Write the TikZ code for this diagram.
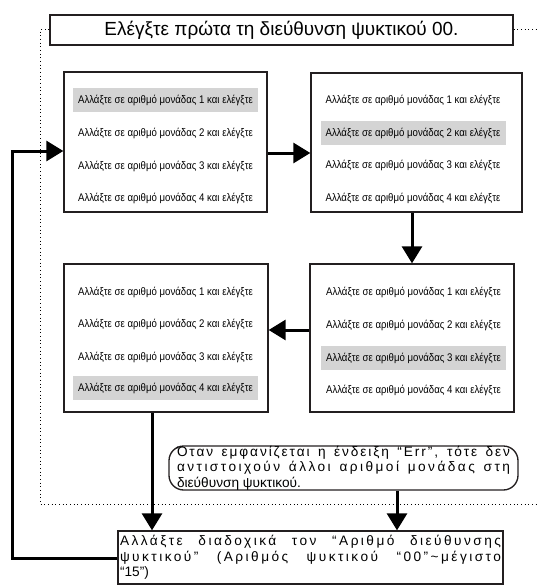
\documentclass[tikz,border=0pt]{standalone}
\usepackage{fontspec}
\setmainfont{Liberation Sans}
\newfontfamily\rowfont[FakeStretch=0.87]{Liberation Sans}
\newfontfamily\spreadfont[LetterSpace=14]{Liberation Sans}
\newfontfamily\widefont[LetterSpace=18]{Liberation Sans}
\usetikzlibrary{arrows.meta}
\definecolor{hlgray}{RGB}{212,212,212}
\definecolor{boxcol}{RGB}{35,31,32}

\begin{document}
\begin{tikzpicture}[x=0.75pt,y=-0.75pt,
  frame/.style={draw=boxcol,line width=1pt,inner sep=0pt},
  row/.style={inner sep=0pt,minimum width=138.75pt,minimum height=18pt,font=\rowfont\fontsize{8.3}{10}\selectfont},
  hl/.style={row,fill=hlgray},
  note/.style={frame,align=justify,font=\fontsize{10.25}{11.5}\selectfont},
  flow/.style={draw=black,line width=2.25pt,-{Triangle[length=12.75pt,width=15pt]}},
  border/.style={dotted,line width=0.75pt}]
\useasboundingbox (0,0) rectangle (536,585);

% boxes
\node[frame,minimum width=347.25pt,minimum height=22.5pt,font=\fontsize{14.25}{15}\selectfont] (title) at (281.5,30) {Ελέγξτε πρώτα τη διεύθυνση ψυκτικού 00.};
\node[frame,minimum width=152.25pt,minimum height=105pt] (b1) at (165.5,142) {};
\node[frame,minimum width=158.25pt,minimum height=104.25pt] (b2) at (416.5,142.5) {};
\node[frame,minimum width=153pt,minimum height=111pt] (b3) at (412,338) {};
\node[frame,minimum width=153pt,minimum height=111pt] (b4) at (166,338) {};
\node[note,rounded corners=11pt,minimum width=261.75pt,minimum height=33pt,text width=249.75pt] (note) at (343.5,468)
  {{\spreadfont Όταν εμφανίζεται η ένδειξη “Err”, τότε δεν}\linebreak
   {\widefont αντιστοιχούν άλλοι αριθμοί μονάδας στη}\linebreak
   διεύθυνση ψυκτικού.};
\node[note,minimum width=288.75pt,minimum height=39.75pt,text width=285.75pt] (change) at (310.5,557.5)
  {{\widefont Αλλάξτε διαδοχικά τον “Αριθμό διεύθυνσης}\linebreak
   {\widefont ψυκτικού” (Αριθμός ψυκτικού “00”\textasciitilde μέγιστο}\linebreak
   “15”)};

% rows
\node[hl] (r11) at (165.5,100) {Αλλάξτε σε αριθμό μονάδας 1 και ελέγξτε};
\node[row] (r12) at (165.5,133) {Αλλάξτε σε αριθμό μονάδας 2 και ελέγξτε};
\node[row] (r13) at (165.5,166) {Αλλάξτε σε αριθμό μονάδας 3 και ελέγξτε};
\node[row] (r14) at (165.5,198) {Αλλάξτε σε αριθμό μονάδας 4 και ελέγξτε};

\node[row] (r21) at (413,100) {Αλλάξτε σε αριθμό μονάδας 1 και ελέγξτε};
\node[hl] (r22) at (413,133) {Αλλάξτε σε αριθμό μονάδας 2 και ελέγξτε};
\node[row] (r23) at (413,165) {Αλλάξτε σε αριθμό μονάδας 3 και ελέγξτε};
\node[row] (r24) at (413,198) {Αλλάξτε σε αριθμό μονάδας 4 και ελέγξτε};

\node[row] (r31) at (413.5,292) {Αλλάξτε σε αριθμό μονάδας 1 και ελέγξτε};
\node[row] (r32) at (413.5,325) {Αλλάξτε σε αριθμό μονάδας 2 και ελέγξτε};
\node[hl] (r33) at (413.5,358) {Αλλάξτε σε αριθμό μονάδας 3 και ελέγξτε};
\node[row] (r34) at (413.5,390) {Αλλάξτε σε αριθμό μονάδας 4 και ελέγξτε};

\node[row] (r41) at (165.5,292) {Αλλάξτε σε αριθμό μονάδας 1 και ελέγξτε};
\node[row] (r42) at (165.5,324) {Αλλάξτε σε αριθμό μονάδας 2 και ελέγξτε};
\node[row] (r43) at (165.5,357) {Αλλάξτε σε αριθμό μονάδας 3 και ελέγξτε};
\node[hl] (r44) at (165.5,388) {Αλλάξτε σε αριθμό μονάδας 4 και ελέγξτε};

% dotted frame
\draw[border] (title.west) -| (40,504) -- (536,504);
\draw[border] (title.east) -- (536,30);

% arrows
\draw[flow] (b1.east |- 0,153) -- (b2.west |- 0,153);
\draw[flow] (b2.south -| 412,0) -- (b3.north -| 412,0);
\draw[flow] (b3.west |- 0,330) -- (b4.east |- 0,330);
\draw[flow] (b4.south -| 152,0) -- (change.north -| 152,0);
\draw[flow] (note.south -| 397,0) -- (change.north -| 397,0);
\draw[flow] (change.west |- 0,558) -| (12,151) -- (b1.west |- 0,151);
\end{tikzpicture}
\end{document}
